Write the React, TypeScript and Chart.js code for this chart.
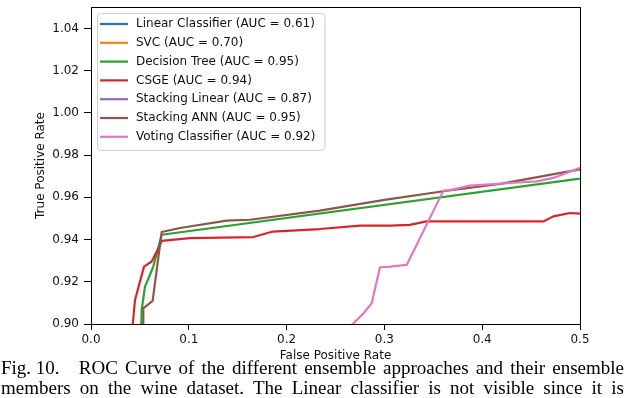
import React, { useEffect, useRef } from 'react';
import { Chart, registerables } from 'chart.js';

Chart.register(...registerables);

const W = 626;
const H = 398;

const seriesNames = [
  'Linear Classifier',
  'SVC',
  'Decision Tree',
  'CSGE',
  'Stacking Linear',
  'Stacking ANN',
  'Voting Classifier',
];
const seriesAUC = [0.61, 0.7, 0.95, 0.94, 0.87, 0.95, 0.92];
const seriesColors = ['#1f77b4', '#ff7f0e', '#2ca02c', '#d62728', '#9467bd', '#8c564b', '#e377c2'];

// Linear Classifier (entirely below the visible range)
const linearX = [0, 0.1, 0.3, 0.5, 1];
const linearY = [0, 0.3, 0.5, 0.7, 1];
// SVC (entirely below the visible range)
const svcX = [0, 0.2, 0.5, 1];
const svcY = [0, 0.5, 0.75, 1];
// Decision Tree
const treeX = [0.0505, 0.0518, 0.0552, 0.0637, 0.0723, 1];
const treeY = [0.88, 0.9066, 0.9177, 0.9272, 0.9423, 1];
// CSGE
const csgeX = [0.0425, 0.0427, 0.045, 0.0542, 0.062, 0.0699, 0.0723, 0.1012, 0.166, 0.186, 0.234, 0.275, 0.3057, 0.326, 0.343, 0.4625, 0.4727, 0.4898, 0.5];
const csgeY = [0.88, 0.9, 0.9114, 0.9272, 0.9296, 0.9367, 0.9394, 0.9407, 0.9412, 0.9438, 0.945, 0.9466, 0.9466, 0.947, 0.9486, 0.9486, 0.951, 0.9526, 0.9523];
// Stacking Linear (entirely below the visible range)
const stackLinX = [0, 0.1, 0.3, 0.5, 1];
const stackLinY = [0, 0.7, 0.85, 0.89, 1];
// Stacking ANN
const stackAnnX = [0.0535, 0.0535, 0.063, 0.0723, 0.091, 0.1387, 0.1626, 0.234, 0.3, 0.3603, 0.42, 0.5];
const stackAnnY = [0.88, 0.9074, 0.911, 0.9436, 0.9455, 0.949, 0.9494, 0.9537, 0.9588, 0.9629, 0.9665, 0.9733];
// Voting Classifier
const votingX = [0.245, 0.2676, 0.2785, 0.287, 0.2955, 0.3057, 0.3228, 0.3603, 0.367, 0.3875, 0.4284, 0.4557, 0.4727, 0.5];
const votingY = [0.89, 0.9, 0.905, 0.9098, 0.9269, 0.9272, 0.928, 0.9632, 0.9634, 0.9656, 0.9668, 0.9676, 0.9692, 0.974];

const seriesX = [linearX, svcX, treeX, csgeX, stackLinX, stackAnnX, votingX];
const seriesY = [linearY, svcY, treeY, csgeY, stackLinY, stackAnnY, votingY];

const xTicks = [0, 0.1, 0.2, 0.3, 0.4, 0.5];
const xTickLabels = ['0.0', '0.1', '0.2', '0.3', '0.4', '0.5'];
const yTicks = [0.9, 0.92, 0.94, 0.96, 0.98, 1.0, 1.02, 1.04];
const yTickLabels = ['0.90', '0.92', '0.94', '0.96', '0.98', '1.00', '1.02', '1.04'];

const captionLabel = 'Fig. 10.';
const captionLines = [
  'ROC Curve of the different ensemble approaches and their ensemble',
  'members on the wine dataset. The Linear classifier is not visible since it is',
];

const FONT = '"DejaVu Sans", sans-serif';

const legendFramePlugin = {
  id: 'legendFrame',
  afterDatasetsDraw(chart: any) {
    const { ctx, chartArea: a } = chart;
    ctx.save();
    ctx.font = `12px ${FONT}`;
    const labels = seriesNames.map((n, i) => `${n} (AUC = ${seriesAUC[i].toFixed(2)})`);
    const left = a.left + 6;
    const top = a.top + 6;
    const textX = left + 39;
    const maxW = Math.max(...labels.map((l) => ctx.measureText(l).width));
    const w = textX + maxW + 9 - left;
    const rowH = 18.8;
    const h = 11 + (labels.length - 1) * rowH + 13;
    ctx.beginPath();
    (ctx as any).roundRect(left + 0.5, top + 0.5, w, h, 3);
    ctx.fillStyle = 'rgba(255,255,255,0.8)';
    ctx.fill();
    ctx.strokeStyle = '#cccccc';
    ctx.lineWidth = 1;
    ctx.stroke();
    labels.forEach((l, i) => {
      const y = top + 11 + i * rowH;
      ctx.beginPath();
      ctx.moveTo(left + 3, y);
      ctx.lineTo(left + 31, y);
      ctx.strokeStyle = seriesColors[i];
      ctx.lineWidth = 2.2;
      ctx.stroke();
      ctx.fillStyle = '#111';
      ctx.textBaseline = 'middle';
      ctx.textAlign = 'left';
      ctx.fillText(l, textX, y);
    });
    ctx.restore();
  },
  afterDraw(chart: any) {
    const { ctx, chartArea: a } = chart;
    ctx.save();
    ctx.strokeStyle = '#000';
    ctx.lineWidth = 1;
    ctx.strokeRect(Math.round(a.left) + 0.5, Math.round(a.top) + 0.5, Math.round(a.right - a.left), Math.round(a.bottom - a.top));
    ctx.restore();
  },
};

export default function App() {
  const ref = useRef<HTMLCanvasElement | null>(null);

  useEffect(() => {
    if (!ref.current) return;
    const datasets = seriesNames.map((name, i) => ({
      label: `${name} (AUC = ${seriesAUC[i].toFixed(2)})`,
      data: seriesX[i].map((x, j) => ({ x, y: seriesY[i][j] })),
      borderColor: seriesColors[i],
      backgroundColor: seriesColors[i],
      borderWidth: 2.2,
      pointRadius: 0,
      showLine: true,
      fill: false,
      tension: 0,
      borderJoinStyle: 'round' as const,
      clip: 0,
      order: seriesNames.length - i,
    }));
    const chart = new Chart(ref.current, {
      type: 'scatter',
      data: { datasets },
      options: {
        animation: false,
        responsive: false,
        devicePixelRatio: 1,
        layout: { padding: { left: 0, top: 7, right: 46, bottom: 0 } },
        plugins: { legend: { display: false }, tooltip: { enabled: false } },
        scales: {
          x: {
            type: 'linear',
            min: 0,
            max: 0.5,
            afterFit: (s: any) => {
              s.height = 74;
              s.paddingLeft = 0;
              s.paddingRight = 0;
            },
            afterBuildTicks: (s: any) => {
              s.ticks = xTicks.map((v) => ({ value: v }));
            },
            ticks: {
              callback: (_v: any, idx: number) => xTickLabels[idx],
              font: { family: FONT, size: 12 },
              color: '#111',
              padding: 3,
              maxRotation: 0,
            },
            grid: { drawOnChartArea: false, color: '#000', tickLength: 6, tickWidth: 1 },
            border: { display: true, color: '#000', width: 1 },
            title: {
              display: true,
              text: 'False Positive Rate',
              font: { family: FONT, size: 12 },
              color: '#111',
              padding: { top: 0, bottom: 35 },
            },
          },
          y: {
            type: 'linear',
            min: 0.9,
            max: 1.0502,
            afterFit: (s: any) => {
              s.width = 91;
              s.paddingTop = 0;
              s.paddingBottom = 0;
            },
            afterBuildTicks: (s: any) => {
              s.ticks = yTicks.map((v) => ({ value: v }));
            },
            ticks: {
              callback: (_v: any, idx: number) => yTickLabels[idx],
              font: { family: FONT, size: 12 },
              color: '#111',
              padding: 5,
            },
            grid: { drawOnChartArea: false, color: '#000', tickLength: 7, tickWidth: 1 },
            border: { display: true, color: '#000', width: 1 },
            title: {
              display: true,
              text: 'True Positive Rate',
              font: { family: FONT, size: 12 },
              color: '#111',
              padding: { top: 34, bottom: 0 },
            },
          },
        },
      },
      plugins: [legendFramePlugin],
    });
    return () => chart.destroy();
  }, []);

  return (
    <div
      style={{
        position: 'fixed',
        left: 0,
        top: 0,
        width: W,
        height: H,
        overflow: 'hidden',
        background: '#fff',
      }}
    >
      <canvas ref={ref} width={W} height={H} style={{ position: 'absolute', left: 0, top: 0, width: W, height: H }} />
      {captionLines.map((line, i) => (
        <div
          key={i}
          style={{
            position: 'absolute',
            left: 1,
            top: 358 + i * 20,
            width: 623,
            fontFamily: '"Liberation Serif", "Times New Roman", serif',
            fontSize: 19,
            lineHeight: '20px',
            color: '#000',
            textAlign: 'justify',
            textAlignLast: 'justify' as any,
            whiteSpace: 'nowrap',
          }}
        >
          {i === 0 ? (
            <span style={{ display: 'inline-block', marginRight: 12 }}>{captionLabel}</span>
          ) : null}
          {i === 0 ? ' ' : ''}
          {line}
        </div>
      ))}
    </div>
  );
}
